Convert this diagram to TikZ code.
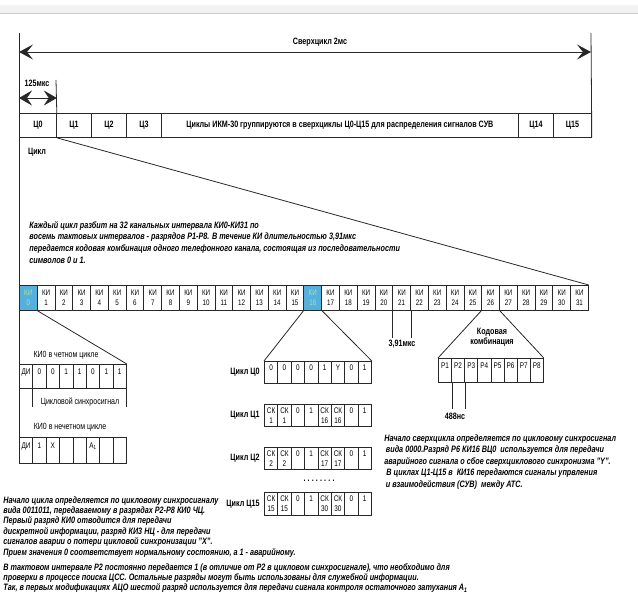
\documentclass[tikz,border=0pt]{standalone}
\usepackage{fontspec}
\setmainfont{Liberation Sans}[FakeStretch=0.78]
\usepackage{tikz}
\usetikzlibrary{arrows.meta}
\definecolor{kiblue}{RGB}{86,176,222}
\definecolor{kigreen}{RGB}{176,226,150}
\definecolor{inkgray}{RGB}{40,40,40}
\newcommand\celltext[2]{#1\\#2\vphantom{1}}

\begin{document}
\begin{tikzpicture}[
  x=1pt,y=-1pt,
  line width=0.8pt,
  lbl/.style={font=\fontsize{9.2}{10.5}\selectfont\bfseries,inner sep=0pt},
  thinlbl/.style={font=\fontsize{9}{10.5}\selectfont,inner sep=0pt},
  note/.style={font=\fontsize{9.3}{11.6}\selectfont\bfseries\itshape,
    align=left,anchor=north west,inner sep=0pt},
  rowcell/.style={draw=inkgray,anchor=north west,minimum height=24pt,
    inner sep=0pt,font=\fontsize{9.2}{10.5}\selectfont\bfseries},
  kicell/.style={draw=inkgray,anchor=north west,minimum width=17.78pt,
    minimum height=25pt,inner sep=0pt,align=center,
    font=\fontsize{8}{10.5}\selectfont},
  kimark/.style={kicell,fill=kiblue,text=kigreen},
  bitcell/.style={draw=inkgray,anchor=north west,minimum width=13.375pt,
    minimum height=22pt,inner sep=0pt,align=center,
    font=\fontsize{8.2}{9.8}\selectfont},
  twoway/.style={draw=inkgray,line width=0.9pt,
    {Stealth[length=14pt,width=15pt,inset=6pt]}-{Stealth[length=14pt,width=15pt,inset=6pt]}}
]
  \useasboundingbox (0,0) rectangle (638,611);
  \fill[gray!10] (0,5) rectangle (638,13);
  \draw[gray!40] (0,13.5) -- (638,13.5);

  % superframe
  \coordinate (lt) at (19,33);
  \coordinate (rt) at (591,33);
  \coordinate (sl) at (19,52);
  \coordinate (sr) at (591,52);
  \draw[twoway] (sl) -- (sr);
  \node[lbl] (super) at (320,42) {Сверхцикл 2мс};

  \node[rowcell,minimum width=37pt] (c0) at (19,113) {Ц0};
  \node[rowcell,minimum width=35pt] (c1) at (56,113) {Ц1};
  \node[rowcell,minimum width=35pt] (c2) at (91,113) {Ц2};
  \node[rowcell,minimum width=35pt] (c3) at (126,113) {Ц3};
  \node[rowcell,minimum width=357pt] (cbig) at (161,113)
    {Циклы ИКМ-30 группируются в сверхциклы Ц0-Ц15 для распределения сигналов СУВ};
  \node[rowcell,minimum width=35pt] (c14) at (518,113) {Ц14};
  \node[rowcell,minimum width=38pt] (c15) at (553,113) {Ц15};
  \draw[inkgray] (rt) -- (c15.south east);

  \node[lbl] (t125) at (37,83) {125мкс};
  \coordinate (ml) at (19,98);
  \coordinate (tick) at (56,80);
  \draw[twoway,line width=0.7pt,
    {Stealth[length=13pt,width=15pt,inset=5pt]}-{Stealth[length=13pt,width=15pt,inset=5pt]}]
    (ml) -- (ml -| c0.east);
  \draw[inkgray] (tick) -- (c0.north east);
  \node[lbl] (cyc) at (37,152) {Цикл};

  \node[note] (about) at (29,221)
    {Каждый цикл разбит на 32 канальных интервала КИ0-КИ31 по\\
     восемь тактовых интервалов - разрядов Р1-Р8. В течение КИ длительностью 3,91мкс\\
     передается кодовая комбинация одного телефонного канала, состоящая из последовательности\\
     символов 0 и 1.};

  % channel slots
  \node[kimark] (ki0) at (19,285) {КИ\\0};
  \foreach \i in {1,...,15}
    \node[kicell] (ki\i) at ({19+17.78*\i},285) {КИ\\\i};
  \node[kimark] (ki16) at ({19+17.78*16},285) {КИ\\16};
  \foreach \i in {17,...,31}
    \node[kicell] (ki\i) at ({19+17.78*\i},285) {КИ\\\i};

  \draw[inkgray] (lt) -- (19,463);
  \draw[inkgray] (c0.south east) -- (ki31.north east);

  % KI0
  \node[thinlbl] (evlbl) at (66,355) {КИ0 в четном цикле};
  \foreach \a [count=\n from 0] in {ДИ,0,0,1,1,0,1,1}
    \node[bitcell,minimum height=24pt] (ev\n) at ({19+13.375*\n},364) {\celltext{\a}{}};
  \draw[inkgray] (ki0.south east) -- (ev7.north east);
  \node[thinlbl] (sync) at (80,402) {Цикловой синхросигнал};
  \draw[inkgray] (ev1.south west) -- (ev1.south west |- sync.south);
  \draw[inkgray] (ev7.south east) -- (ev7.south east |- sync.south);

  \node[thinlbl] (odlbl) at (70,427) {КИ0 в нечетном цикле};
  \foreach \a [count=\n from 0] in {ДИ,1,Х,,,А\textsubscript{1},,}
    \node[bitcell,minimum height=26pt] (od\n) at ({19+13.375*\n},437) {\celltext{\a}{}};

  % KI16
  \foreach \a/\b [count=\n from 0] in {0/,0/,0/,0/,1/,Y/,0/,1/}
    \node[bitcell] (qa\n) at ({264+13.375*\n},361) {\celltext{\a}{\b}};
  \foreach \a/\b [count=\n from 0] in {СК/1,СК/1,0/,1/,СК/16,СК/16,0/,1/}
    \node[bitcell] (qb\n) at ({264+13.375*\n},404) {\celltext{\a}{\b}};
  \foreach \a/\b [count=\n from 0] in {СК/2,СК/2,0/,1/,СК/17,СК/17,0/,1/}
    \node[bitcell] (qc\n) at ({264+13.375*\n},447) {\celltext{\a}{\b}};
  \foreach \a/\b [count=\n from 0] in {СК/15,СК/15,0/,1/,СК/30,СК/30,0/,1/}
    \node[bitcell,minimum height=23pt] (qd\n) at ({264+13.375*\n},492) {\celltext{\a}{\b}};
  \node[lbl,anchor=east] (lqa) at ([xshift=-4pt]qa0.west) {Цикл Ц0};
  \node[lbl,anchor=east] (lqb) at ([xshift=-4pt]qb0.west) {Цикл Ц1};
  \node[lbl,anchor=east] (lqc) at ([xshift=-4pt]qc0.west) {Цикл Ц2};
  \node[lbl,anchor=east] (lqd) at ([xshift=-4pt]qd0.west) {Цикл Ц15};
  \node[lbl] (dots) at (319,481)
    {\makebox[31pt]{.\hfill.\hfill.\hfill.\hfill.\hfill.\hfill.\hfill.}};
  \draw[inkgray] (ki16.south west) -- (qa0.north west);
  \draw[inkgray] (ki16.south east) -- (qa7.north east);

  % 3,91 us
  \node[lbl,inner sep=2pt] (t391) at (402,344) {3,91мкс};
  \draw[inkgray] (ki21.south west) -- (ki21.south west |- t391.north);
  \draw[inkgray] (ki21.south east) -- (ki21.south east |- t391.north);

  % code word
  \node[lbl,align=center] (code) at (492,337) {Кодовая\\комбинация};
  \foreach \i [count=\n from 0] in {1,...,8}
    \node[bitcell,minimum width=13.125pt,minimum height=24pt] (pr\n)
      at ({438+13.125*\n},358) {\celltext{Р\i}{}};
  \draw[inkgray] (ki26.south west) -- (pr0.north west);
  \draw[inkgray] (ki26.south east) -- (pr7.north east);
  \node[lbl,inner sep=3pt] (t488) at (455,416) {488нс};
  \draw[inkgray] (pr0.south east) -- (pr0.south east |- t488.north);
  \draw[inkgray] (pr1.south east) -- (pr1.south east |- t488.north);

  \node[note,font=\fontsize{9.3}{11.5}\selectfont\bfseries\itshape] (superinfo) at (384,434)
    {Начало сверхцикла определяется по цикловому синхросигнал\\
     \,вида 0000.Разряд Р6 КИ16 ВЦ0 \ используется для передачи\\
     аварийного сигнала о сбое сверхциклового синхронизма "Y".\\
     \ В циклах Ц1-Ц15 в \ КИ16 передаются сигналы упрвления\\
     \,и взаимодействия (СУВ) \ между АТС.};

  \node[note,font=\fontsize{9.3}{10.4}\selectfont\bfseries\itshape] (cycinfo) at (3,496)
    {Начало цикла определяется по цикловому синхросигналу\\
     вида 0011011, передаваемому в разрядах Р2-Р8 КИ0 ЧЦ.\\
     Первый разряд КИ0 отводится для передачи\\
     дискретной информации, разряд КИ3 НЦ - для передачи\\
     сигналов аварии о потери цикловой синхронизации "Х".\\
     Прием значения 0 соответствует нормальному состоянию, а 1 - аварийному.};
  \node[note,font=\fontsize{9.3}{10.2}\selectfont\bfseries\itshape] (bitinfo) at (3,563)
    {В тактовом интервале Р2 постоянно передается 1 (в отличие от Р2 в цикловом синхросигнале), что необходимо для\\
     проверки в процессе поиска ЦСС. Остальные разряды могут быть использованы для служебной информации.\\
     Так, в первых модификациях АЦО шестой разряд используется для передачи сигнала контроля остаточного затухания А\textsubscript{1}};
\end{tikzpicture}
\end{document}
